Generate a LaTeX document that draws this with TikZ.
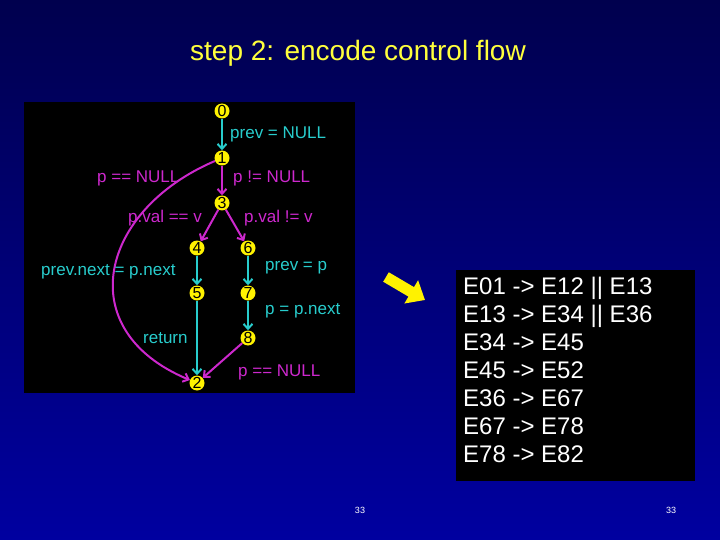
\documentclass[tikz,border=0pt]{standalone}
\usepackage{fontspec}
\setmainfont{Liberation Sans}
\usetikzlibrary{arrows.meta}

\definecolor{slidetop}{RGB}{0,0,78}
\definecolor{slidebot}{RGB}{0,0,160}
\definecolor{flowcyan}{RGB}{40,205,205}
\definecolor{flowmag}{RGB}{205,40,205}
\definecolor{titleyel}{RGB}{255,255,60}

\tikzset{
  vtx/.style={circle,fill=yellow,inner sep=0pt,minimum size=15pt,text=black,font=\fontsize{16}{16}\selectfont},
  cyanedge/.style={draw=flowcyan,line width=2pt,-{Straight Barb[length=5pt,width=9pt]}},
  magedge/.style={draw=flowmag,line width=2pt,-{Straight Barb[length=5pt,width=9pt]}},
  cyanlbl/.style={anchor=west,inner sep=0pt,text=flowcyan,font=\fontsize{17}{17}\selectfont},
  maglbl/.style={anchor=west,inner sep=0pt,text=flowmag,font=\fontsize{17}{17}\selectfont},
}

\begin{document}
\begin{tikzpicture}[x=1pt,y=-1pt]
\useasboundingbox (0,0) rectangle (720,540);

%background and panels
\shade[top color=slidetop,bottom color=slidebot] (0,0) rectangle (720,540);
\fill[black] (24,102) rectangle (355,393);
\fill[black] (456,270) rectangle (695,481);

% Title
\node (title) at (358,53) [text=titleyel,font=\fontsize{28}{28}\selectfont] {step 2: encode control flow};

%vertices
\node[vtx] (v0) at (222,111) {0};
\node[vtx] (v1) at (222,158) {1};
\node[vtx] (v3) at (222,203) {3};
\node[vtx] (v4) at (197,248) {4};
\node[vtx] (v6) at (248,248) {6};
\node[vtx] (v5) at (197,293) {5};
\node[vtx] (v7) at (248,293) {7};
\node[vtx] (v8) at (248,338) {8};
\node[vtx] (v2) at (197,383) {2};

%edges
\draw[cyanedge] (v0) -- (v1);
\draw[magedge] (v1) -- (v3);
\draw[magedge] (v3) -- (v4);
\draw[magedge] (v3) -- (v6);
\draw[cyanedge] (v4) -- (v5);
\draw[cyanedge] (v6) -- (v7);
\draw[cyanedge] (v7) -- (v8);
\draw[cyanedge] (v5) -- (v2);
\draw[magedge] (v8) -- (v2);
\draw[magedge] (v1) .. controls (100,210) and (70,330) .. (v2);

% edge labels
\node[cyanlbl] (l01) at (230,134) {prev = NULL};
\node[maglbl] (l12) at (97,178) {p == NULL};
\node[maglbl] (l13) at (233,178) {p != NULL};
\node[maglbl] (l34) at (128,218) {p.val == v};
\node[maglbl] (l36) at (244,218) {p.val != v};
\node[cyanlbl] (l45) at (41,272) {prev.next = p.next};
\node[cyanlbl] (l67) at (265,268) {prev = p};
\node[cyanlbl] (l78) at (265,311) {p = p.next};
\node[cyanlbl] (l52) at (143,338) {return};
\node[maglbl] (l82) at (238,372) {p == NULL};

%big arrow
\coordinate (bigtail) at (386,277);
\coordinate (bighead) at (425,300);
\draw[yellow,line width=11pt,-{Triangle[length=16pt,width=26pt]}] (bigtail) -- (bighead);

% encoded edges
\node (code) at (463,277) [anchor=north west,inner sep=0pt,align=left,text=white,font=\fontsize{24}{28}\selectfont]
  {E01 -> E12 || E13\\E13 -> E34 || E36\\E34 -> E45\\E45 -> E52\\E36 -> E67\\E67 -> E78\\E78 -> E82};

% page numbers
\node (pgl) at (360,510) [text=white,font=\fontsize{9}{9}\selectfont] {33};
\node (pgr) at (671,510) [text=white,font=\fontsize{9}{9}\selectfont] {33};
\end{tikzpicture}
\end{document}
